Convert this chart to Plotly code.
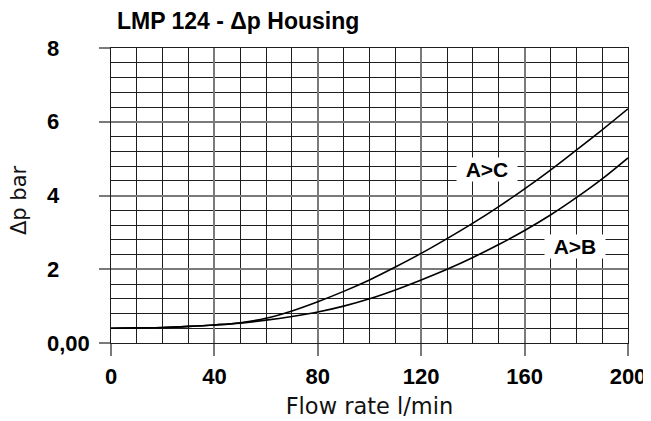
import plotly.graph_objects as go

flow = [0, 10, 20, 30, 40, 50, 60, 70, 80, 90, 100, 110, 120, 130, 140, 150, 160, 170, 180, 190, 200]
dp_ac = [0.40, 0.41, 0.42, 0.45, 0.49, 0.55, 0.67, 0.87, 1.12, 1.40, 1.71, 2.06, 2.43, 2.83, 3.25, 3.70, 4.18, 4.69, 5.23, 5.78, 6.35]
dp_ab = [0.40, 0.41, 0.42, 0.45, 0.49, 0.54, 0.62, 0.72, 0.84, 1.00, 1.20, 1.44, 1.71, 2.00, 2.32, 2.67, 3.05, 3.47, 3.94, 4.45, 5.02]
y_ticks = [0, 2, 4, 6, 8]
y_tick_text = ["0,00", "2", "4", "6", "8"]
x_ticks = [0, 40, 80, 120, 160, 200]
x_tick_text = ["0", "40", "80", "120", "160", "200"]
series_labels = ["A>C", "A>B"]
label_pos_x = [145.5, 179.5]
label_pos_y = [4.7, 2.62]

OFF = 8  # page body margin
W, H = 651 - OFF, 421 - OFF
L, T = 111 - OFF, 48 - OFF
pw, ph = 517, 295
R = W - L - pw
B = H - T - ph

fig = go.Figure()
for ys in (dp_ac, dp_ab):
    fig.add_trace(go.Scatter(x=flow, y=ys, mode="lines",
                             line=dict(color="black", width=1.6, shape="spline", smoothing=1.0),
                             showlegend=False, hoverinfo="skip"))

major_col = "#7a7a7a"
minor_col = "#1e1e1e"

fig.update_xaxes(range=[0, 200], tickvals=x_ticks, ticktext=x_tick_text, automargin=False,
                 ticks="outside", ticklen=12, tickwidth=1.5, tickcolor=major_col,
                 showgrid=True, gridcolor=major_col, gridwidth=1.5, zeroline=False,
                 showline=True, linecolor=minor_col, linewidth=1, mirror=True,
                 tickfont=dict(family="Liberation Sans, Arial", size=22, color="black", weight="bold"),
                 ticklabelstandoff=2,
                 title=dict(text="Flow rate l/min", standoff=9,
                            font=dict(family="DejaVu Sans", size=22.5, color="#111")),
                 minor=dict(dtick=10, tick0=0, showgrid=True, gridcolor=minor_col, gridwidth=1, ticks=""))
fig.update_yaxes(range=[0, 8], tickvals=y_ticks, showticklabels=False, automargin=False,
                 ticks="outside", ticklen=11, tickwidth=1.5, tickcolor=major_col,
                 showgrid=True, gridcolor=major_col, gridwidth=1.5, zeroline=False,
                 showline=True, linecolor=minor_col, linewidth=1, mirror=True,
                 minor=dict(dtick=0.4, tick0=0, showgrid=True, gridcolor=minor_col, gridwidth=1, ticks=""))

ann = []
for v, t in zip(y_ticks, y_tick_text):
    ann.append(dict(xref="paper", yref="y", x=(45 - 111) / pw, y=v, text=t, showarrow=False,
                    xanchor="left", yanchor="middle",
                    font=dict(family="Liberation Sans, Arial", size=22, color="black", weight="bold")))
for t, lx, ly in zip(series_labels, label_pos_x, label_pos_y):
    ann.append(dict(xref="x", yref="y", x=lx, y=ly, text="<b>" + t + "</b>", showarrow=False,
                    bgcolor="white", width=60, height=23, borderpad=0,
                    font=dict(family="Liberation Sans, Arial", size=21, color="black")))
ann.append(dict(xref="paper", yref="paper", x=(19 - 111) / pw, y=(343 - 200) / ph,
                text="Δp bar", textangle=-90, showarrow=False, xanchor="center", yanchor="middle",
                font=dict(family="DejaVu Sans", size=21, color="#111")))

fig.update_layout(
    width=W, height=H, margin=dict(l=L, r=R, t=T, b=B),
    paper_bgcolor="white", plot_bgcolor="white",
    title=dict(text="<b>LMP 124 - Δp Housing</b>", xref="paper", x=(117 - 111) / pw, xanchor="left",
               yref="container", y=1 - (21 - OFF) / H, yanchor="middle",
               font=dict(family="Liberation Sans, Arial", size=23, color="black")),
    annotations=ann,
)
fig.write_html("out.html")
